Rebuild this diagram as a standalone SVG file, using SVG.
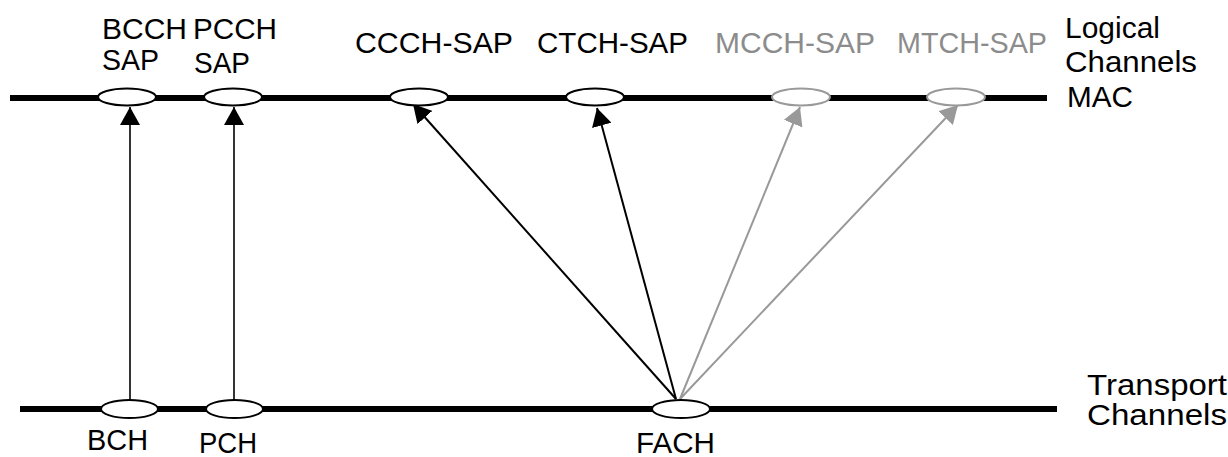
<svg xmlns="http://www.w3.org/2000/svg" width="1228" height="457" viewBox="0 0 1228 457">
  <style>
    text { font-family: "Liberation Sans", Arial, sans-serif; font-size: 30px; fill: #000; }
    text.dim { fill: #8c8c8c; }
    .bus { stroke: #000; stroke-width: 6; }
    .sap { fill: #fff; stroke: #000; stroke-width: 2; }
    .sap.dim { stroke: #999; }
    .link { stroke: #000; stroke-width: 2; fill: none; marker-end: url(#head); }
    .link.dim { stroke: #999; marker-end: url(#headDim); }
    .up { stroke-width: 1.6; }
  </style>
  <defs>
    <marker id="head" markerUnits="userSpaceOnUse" markerWidth="18" markerHeight="20" refX="18" refY="10" orient="auto" viewBox="0 0 18 20">
      <path d="M0,0 L18,10 L0,20 Z" fill="#000"/>
    </marker>
    <marker id="headDim" markerUnits="userSpaceOnUse" markerWidth="18" markerHeight="20" refX="18" refY="10" orient="auto" viewBox="0 0 18 20">
      <path d="M0,0 L18,10 L0,20 Z" fill="#999"/>
    </marker>
  </defs>

  <!-- layer boundaries -->
  <g id="buses">
    <line class="bus" x1="10" y1="98" x2="1047" y2="98"/>
    <line class="bus" x1="20" y1="409" x2="1057" y2="409"/>
  </g>

  <!-- mappings from transport channels up to logical channel SAPs -->
  <g id="connectors">
    <line class="link up" x1="130" y1="400" x2="130" y2="107"/>
    <line class="link up" x1="234" y1="400" x2="234" y2="107"/>
    <line class="link" x1="676" y1="399" x2="413" y2="104"/>
    <line class="link" x1="676" y1="399" x2="597" y2="108"/>
    <line class="link dim" x1="680" y1="399" x2="800" y2="107"/>
    <line class="link dim" x1="680" y1="399" x2="958" y2="105"/>
  </g>

  <!-- logical channel SAPs -->
  <g id="bcch-sap">
    <ellipse class="sap" cx="127" cy="97" rx="29" ry="8.5"/>
    <text x="102" y="39" textLength="85" lengthAdjust="spacingAndGlyphs">BCCH</text>
    <text x="102" y="70" textLength="57" lengthAdjust="spacingAndGlyphs">SAP</text>
  </g>
  <g id="pcch-sap">
    <ellipse class="sap" cx="233" cy="97" rx="29" ry="8.5"/>
    <text x="193" y="39" textLength="84" lengthAdjust="spacingAndGlyphs">PCCH</text>
    <text x="194" y="73" textLength="56" lengthAdjust="spacingAndGlyphs">SAP</text>
  </g>
  <g id="ccch-sap">
    <ellipse class="sap" cx="419" cy="97" rx="29" ry="8.5"/>
    <text x="355" y="53" textLength="158" lengthAdjust="spacingAndGlyphs">CCCH-SAP</text>
  </g>
  <g id="ctch-sap">
    <ellipse class="sap" cx="595" cy="97" rx="29" ry="8.5"/>
    <text x="537" y="53" textLength="151" lengthAdjust="spacingAndGlyphs">CTCH-SAP</text>
  </g>
  <g id="mcch-sap">
    <ellipse class="sap dim" cx="801" cy="97" rx="29" ry="8.5"/>
    <text class="dim" x="715" y="53" textLength="160" lengthAdjust="spacingAndGlyphs">MCCH-SAP</text>
  </g>
  <g id="mtch-sap">
    <ellipse class="sap dim" cx="956" cy="97" rx="29" ry="8.5"/>
    <text class="dim" x="897" y="53" textLength="150" lengthAdjust="spacingAndGlyphs">MTCH-SAP</text>
  </g>

  <!-- transport channels -->
  <g id="bch">
    <ellipse class="sap" cx="129.5" cy="409" rx="28.5" ry="9"/>
    <text x="87" y="450" textLength="61" lengthAdjust="spacingAndGlyphs">BCH</text>
  </g>
  <g id="pch">
    <ellipse class="sap" cx="234.5" cy="409" rx="28.5" ry="9"/>
    <text x="199" y="453" textLength="58" lengthAdjust="spacingAndGlyphs">PCH</text>
  </g>
  <g id="fach">
    <ellipse class="sap" cx="681" cy="409" rx="29" ry="9"/>
    <text x="636" y="453" textLength="79" lengthAdjust="spacingAndGlyphs">FACH</text>
  </g>

  <!-- layer labels -->
  <g id="label-logical">
    <text x="1065" y="38" textLength="95" lengthAdjust="spacingAndGlyphs">Logical</text>
    <text x="1065" y="72" textLength="132" lengthAdjust="spacingAndGlyphs">Channels</text>
    <text x="1067" y="107" textLength="66" lengthAdjust="spacingAndGlyphs">MAC</text>
  </g>
  <g id="label-transport">
    <text x="1087" y="395" textLength="140" lengthAdjust="spacingAndGlyphs">Transport</text>
    <text x="1087" y="425" textLength="140" lengthAdjust="spacingAndGlyphs">Channels</text>
  </g>
</svg>
